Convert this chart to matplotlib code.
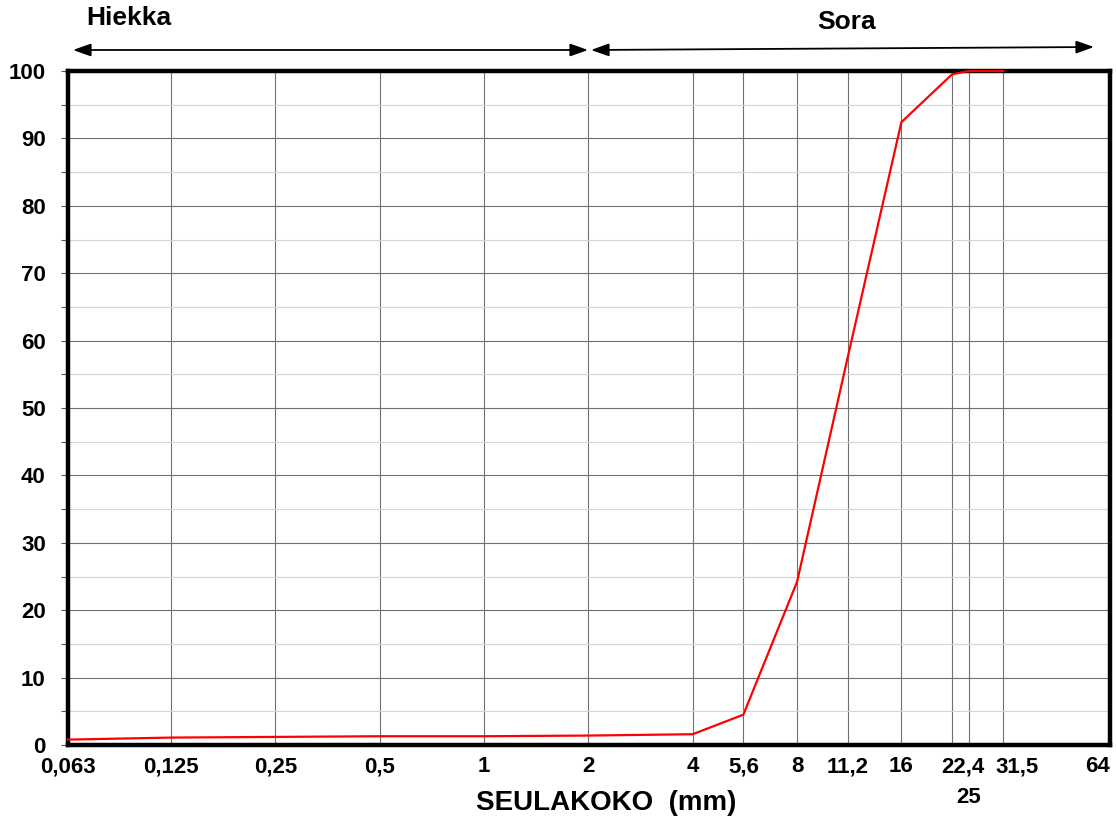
import matplotlib
matplotlib.use("Agg")
import matplotlib.pyplot as plt
import matplotlib.transforms as mtransforms
from matplotlib.patches import FancyArrowPatch
from matplotlib.ticker import FixedLocator, MultipleLocator

plt.rcParams['font.family'] = ["Liberation Sans", "DejaVu Sans"]
plt.rcParams['font.weight'] = "bold"

# seulakoot (mm) ja läpäisy (%)
sieve_sizes = [0.063, 0.125, 0.25, 0.5, 1, 2, 4, 5.6, 8, 11.2, 16, 22.4, 25, 31.5]
passing = [0.8, 1.1, 1.2, 1.3, 1.3, 1.4, 1.6, 4.5, 24.2, 57.5, 92.4, 99.5, 100, 100]

# ylärivin tunnisteet ja alemmalle riville menevä 25
tick_values = [0.063, 0.125, 0.25, 0.5, 1, 2, 4, 5.6, 8, 11.2, 16, 22.4, 31.5, 64]
tick_labels = ["0,063", "0,125", "0,25", "0,5", "1", "2", "4", "5,6", "8", "11,2",
               "16", "22,4", "31,5", "64"]
lower_ticks = [25]
lower_labels = ["25"]

W, H = 1116, 825
fig = plt.figure(figsize=(W / 100, H / 100), dpi=100)
ax = fig.add_axes([68 / W, 1 - 745 / H, 1042 / W, 674 / H])

ax.plot(sieve_sizes, passing, color="red", linewidth=1.6, zorder=3, clip_on=False)

ax.set_xscale("log")
ax.set_xlim(0.063, 64)
ax.set_ylim(0, 100)

ax.xaxis.set_major_locator(FixedLocator(tick_values))
ax.xaxis.set_minor_locator(FixedLocator(lower_ticks))
ax.set_xticklabels(tick_labels)
ax.set_xticklabels(lower_labels, minor=True)
ax.yaxis.set_major_locator(MultipleLocator(10))
ax.yaxis.set_minor_locator(MultipleLocator(5))

# ruudukko
ax.grid(which="both", axis="x", color="#707070", linewidth=0.8)
ax.grid(which="major", axis="y", color="#707070", linewidth=0.8)
ax.grid(which="minor", axis="y", color="#d4d4d4", linewidth=0.8)
ax.set_axisbelow(True)

for sp in ax.spines.values():
    sp.set_linewidth(3.2)
    sp.set_color("black")

ax.tick_params(axis="x", which="major", length=0, pad=8, labelsize=16)
ax.tick_params(axis="x", which="minor", length=0, pad=30, labelsize=16)
ax.tick_params(axis="y", which="both", length=5, width=0.8, color="#555555",
               pad=11, labelsize=16)
for lab in ax.get_xticklabels() + ax.get_xticklabels(minor=True) + ax.get_yticklabels():
    lab.set_fontweight("bold")

# siirretään päällekkäin osuvia tunnisteita hieman
shifts = {"22,4": 11, "31,5": 14, "64": -13}
for lab in ax.get_xticklabels():
    dx = shifts.get(lab.get_text(), 0)
    if dx:
        lab.set_transform(lab.get_transform() +
                          mtransforms.ScaledTranslation(dx / 100, 0, fig.dpi_scale_trans))

fig.text(606 / W, 1 - 803 / H, "SEULAKOKO  (mm)", ha="center", va="center",
         fontsize=20, fontweight="bold")

# Hiekka / Sora nuolet
arrow_kw = dict(arrowstyle="<|-|>,head_length=0.9,head_width=0.32", mutation_scale=12,
                color="black", linewidth=1.3, shrinkA=0, shrinkB=0)
fig.add_artist(FancyArrowPatch(
    (73 / W, 1 - 50 / H), (588 / W, 1 - 50 / H), transform=fig.transFigure, **arrow_kw))
fig.add_artist(FancyArrowPatch(
    (591 / W, 1 - 50 / H), (1094 / W, 1 - 47 / H), transform=fig.transFigure, **arrow_kw))
fig.text(129 / W, 1 - 18 / H, "Hiekka", ha="center", va="center", fontsize=19,
         fontweight="bold")
fig.text(847 / W, 1 - 22 / H, "Sora", ha="center", va="center", fontsize=19,
         fontweight="bold")

fig.savefig("out.png", dpi=100)
